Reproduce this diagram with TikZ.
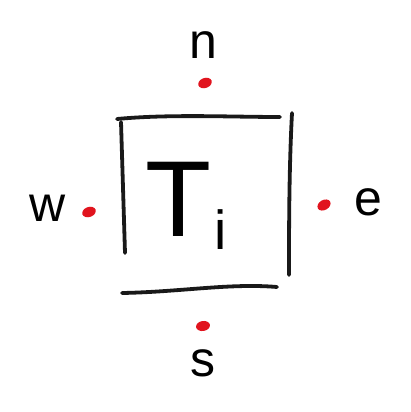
\documentclass[tikz,border=0pt]{standalone}
\usepackage{fontspec}
\setmainfont{Liberation Sans}
\usetikzlibrary{shapes.geometric}
\definecolor{dotred}{RGB}{225,20,30}
\begin{document}
\begin{tikzpicture}[x=1pt,y=-1pt,
  stroke/.style={line width=3.8pt,line cap=round,black!90},
  reddot/.style={ellipse,fill=dotred,minimum width=14pt,minimum height=10pt,inner sep=0pt},
  lbl/.style={font=\fontsize{50}{50}\selectfont,inner sep=0pt}]
\useasboundingbox (0,0) rectangle (411,412);
% box
\draw[stroke] (117,119) .. controls (170,114) and (230,117) .. (280,117);
\draw[stroke] (121,122) -- (125,253);
\draw[stroke] (292,113) .. controls (289,170) and (289,230) .. (289,275);
\draw[stroke] (122,293) .. controls (180,292) and (230,283) .. (277,287);
% centre text
\node[inner sep=0pt,font=\fontsize{108}{108}\selectfont] (ti) at (186,206) {T\kern0.03em\raisebox{-0.12em}{\fontsize{55}{55}\selectfont i}};
% dots
\node[reddot,rotate=20] (dn) at (205,83) {};
\node[reddot,rotate=30] (de) at (324,205) {};
\node[reddot,rotate=20] (dw) at (89,212) {};
\node[reddot,rotate=10] (ds) at (203,326) {};
% labels
\node[lbl] (ln) at (203,45) {n};
\node[lbl] (le) at (368,202) {e};
\node[lbl] (lw) at (48,208) {w};
\node[lbl] (ls) at (203,363) {s};
\end{tikzpicture}
\end{document}
